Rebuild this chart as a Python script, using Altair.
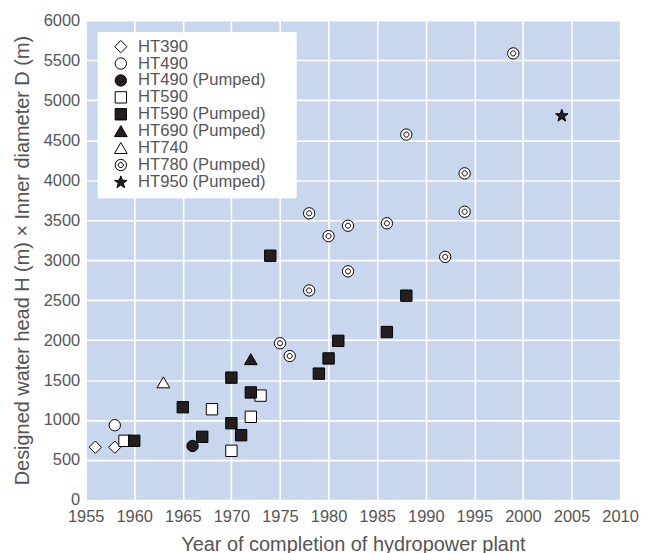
import math
import altair as alt
import pandas as pd

# ---- data ----
series_names = ["HT390", "HT490", "HT490 (Pumped)", "HT590", "HT590 (Pumped)",
                "HT690 (Pumped)", "HT740", "HT780 (Pumped)", "HT950 (Pumped)"]

ht390_years = [1956, 1958]
ht390_vals = [660, 660]
ht490_years = [1958]
ht490_vals = [935]
ht490p_years = [1966]
ht490p_vals = [675]
ht590_years = [1959, 1968, 1970, 1972, 1973]
ht590_vals = [740, 1135, 615, 1040, 1305]
ht590p_years = [1960, 1965, 1967, 1970, 1970, 1971, 1972, 1974, 1979, 1980, 1981, 1986, 1988]
ht590p_vals = [740, 1160, 790, 1530, 960, 810, 1345, 3055, 1580, 1770, 1990, 2100, 2555]
ht690p_years = [1972]
ht690p_vals = [1760]
ht740_years = [1963]
ht740_vals = [1470]
ht780p_years = [1975, 1976, 1978, 1978, 1980, 1982, 1982, 1986, 1988, 1992, 1994, 1994, 1999]
ht780p_vals = [1960, 1800, 2620, 3585, 3300, 3430, 2860, 3460, 4570, 3040, 4085, 3605, 5585]
ht950p_years = [2004]
ht950p_vals = [4810]

x_ticks = list(range(1955, 2011, 5))
y_ticks = list(range(0, 6001, 500))

groups = [ht390_years, ht490_years, ht490p_years, ht590_years, ht590p_years,
          ht690p_years, ht740_years, ht780p_years, ht950p_years]
values = [ht390_vals, ht490_vals, ht490p_vals, ht590_vals, ht590p_vals,
          ht690p_vals, ht740_vals, ht780p_vals, ht950p_vals]

rows = []
for name, ys, vs in zip(series_names, groups, values):
    for yr, v in zip(ys, vs):
        rows.append({"series": name, "year": yr, "value": v})
df = pd.DataFrame(rows)

# ---- symbol shapes ----
star_pts = []
for k in range(10):
    ang = math.radians(-90 + 36 * k)
    r = 1.15 if k % 2 == 0 else 0.47
    star_pts.append((r * math.cos(ang), r * math.sin(ang) + 0.08))
star_path = "M" + " L".join(f"{x:.3f},{y:.3f}" for x, y in star_pts) + " Z"
ring_path = ("M-1,0 A1,1 0 1,1 1,0 A1,1 0 1,1 -1,0 Z "
             "M-0.45,0 A0.45,0.45 0 1,1 0.45,0 A0.45,0.45 0 1,1 -0.45,0 Z")
tri_path = "M0,-0.98 L1.12,0.95 L-1.12,0.95 Z"
diamond_path = "M0,-1.08 L1.08,0 L0,1.08 L-1.08,0 Z"

DARK = "#231F20"
shape_range = [diamond_path, "circle", "circle", "square", "square",
               tri_path, tri_path, ring_path, star_path]
fill_range = ["white", "white", DARK, "white", DARK, DARK, "white", "white", DARK]
stroke_range = ["black"] * len(series_names)

GREY = "#555555"
FONT = "Liberation Sans"
LABEL_EXPR = "datum.label + '\u00a0\u00a0\u00a0\u00a0\u00a0\u200b'"

def leg():
    return alt.Legend(title=None, labelExpr=LABEL_EXPR, rowPadding=0, clipHeight=16)

chart = alt.Chart(df).mark_point(
    filled=True, strokeWidth=1, size=130, opacity=1
).encode(
    x=alt.X("year:Q", scale=alt.Scale(domain=[1955, 2010], nice=False, zero=False),
            axis=alt.Axis(values=x_ticks, format="d",
                          title="Year of completion of hydropower plant",
                          labelFlush=False, labelOverlap=False,
                          labelPadding=9, titlePadding=9)),
    y=alt.Y("value:Q", scale=alt.Scale(domain=[0, 6000], nice=False),
            axis=alt.Axis(values=y_ticks, format="d",
                          title="Designed water head H (m) \u00d7 Inner diameter D (m)",
                          labelOverlap=False, labelPadding=6, titlePadding=11)),
    shape=alt.Shape("series:N", scale=alt.Scale(domain=series_names, range=shape_range),
                    legend=leg()),
    fill=alt.Fill("series:N", scale=alt.Scale(domain=series_names, range=fill_range),
                  legend=leg()),
    stroke=alt.Stroke("series:N", scale=alt.Scale(domain=series_names, range=stroke_range),
                      legend=leg()),
).properties(
    width=537, height=482,
    padding={"left": 4, "top": 3, "right": 5, "bottom": 0},
).configure_view(
    fill="#C8D6EE", stroke=None
).configure_axis(
    grid=True, gridColor="white", gridWidth=1.6, gridOpacity=1,
    domain=False, ticks=False,
    labelFont=FONT, labelFontSize=16.5, labelColor=GREY,
    titleFont=FONT, titleFontSize=20, titleFontWeight="normal", titleColor=GREY,
).configure_legend(
    orient="top-left", offset=12, fillColor="white", strokeColor="white",
    padding=6.5, rowPadding=0, symbolSize=130, symbolOffset=8.5,
    symbolStrokeWidth=1,
    labelFont=FONT, labelFontSize=16.7, labelColor=GREY, labelOffset=9,
)

chart.save("out.html", embed_options={"renderer": "svg", "actions": False})
